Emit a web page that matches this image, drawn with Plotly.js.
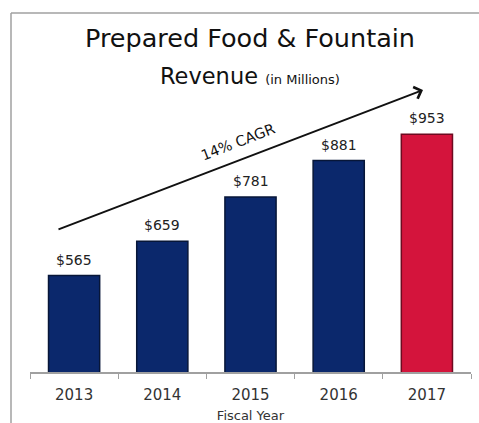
<!DOCTYPE html>
<html>
<head>
<meta charset="utf-8">
<script src="https://cdn.plot.ly/plotly-3.0.1.min.js"></script>
<style>html,body{margin:0;padding:0;background:#fff;}#chart{width:479px;height:423px;}</style>
</head>
<body>
<div id="chart"></div>
<script>
const years = ['2013', '2014', '2015', '2016', '2017'];
const revenue = [565, 659, 781, 881, 953];
const barColors = ['#0b286c', '#0b286c', '#0b286c', '#0b286c', '#d4143c'];
const barEdges = ['#071638', '#071638', '#071638', '#071638', '#6e0a20'];
const titleLine1 = 'Prepared Food &amp; Fountain';
const titleLine2 = 'Revenue <span style="font-size:13px">(in Millions)</span>';
const cagrLabel = '14% CAGR';
const xTitle = 'Fiscal Year';

const W = 479, H = 423;
const FONT = 'DejaVu Sans, sans-serif';

const valueLabels = years.map((y, i) => ({
  x: i, y: revenue[i], xref: 'x', yref: 'y',
  text: '$' + revenue[i], showarrow: false,
  yanchor: 'bottom', yshift: 6,
  font: {family: FONT, size: 14, color: '#222'}
}));

const trace = {
  type: 'bar', x: years, y: revenue,
  marker: {color: barColors, line: {color: barEdges, width: 1.5}},
  width: 0.58, hoverinfo: 'skip'
};

const layout = {
  width: W, height: H,
  margin: {l: 0, r: 0, t: 0, b: 0},
  paper_bgcolor: '#fff', plot_bgcolor: '#fff',
  showlegend: false,
  title: {text: titleLine1, x: 250 / W, xanchor: 'center', y: 1 - 38 / H, yanchor: 'middle',
          font: {family: FONT, size: 25.5, color: '#111'}},
  xaxis: {
    domain: [30 / W, 471 / W], type: 'category', range: [-0.5, years.length - 0.5],
    showline: true, linecolor: '#a0a0a0', linewidth: 1.5,
    ticks: 'outside', tickson: 'boundaries', ticklen: 5, tickcolor: '#a0a0a0',
    tickfont: {family: FONT, size: 15, color: '#333'}, tickangle: 0, ticklabelstandoff: 8,
    title: {text: xTitle, font: {family: FONT, size: 13, color: '#333'}, standoff: 9},
    showgrid: false, zeroline: false, fixedrange: true
  },
  yaxis: {
    domain: [51 / H, (H - 20) / H], range: [300, 1267],
    visible: false, showgrid: false, zeroline: false, fixedrange: true
  },
  shapes: [
    {type: 'line', xref: 'paper', yref: 'paper', x0: 11 / W, x1: 11 / W, y0: 0, y1: 1 - 13 / H,
     line: {color: '#a0a0a0', width: 1.5}},
    {type: 'line', xref: 'paper', yref: 'paper', x0: 11 / W, x1: 1, y0: 1 - 13 / H, y1: 1 - 13 / H,
     line: {color: '#a0a0a0', width: 1.5}}
  ],
  annotations: valueLabels.concat([
    {xref: 'paper', yref: 'paper', x: 250 / W, y: 1 - 76 / H, xanchor: 'center', yanchor: 'middle',
     text: titleLine2, showarrow: false, font: {family: FONT, size: 22.5, color: '#111'}},
    {xref: 'paper', yref: 'paper', x: 423 / W, y: 1 - 90 / H, text: '', showarrow: true,
     ax: -366, ay: 140, axref: 'pixel', ayref: 'pixel',
     arrowhead: 4, arrowsize: 1.2, arrowwidth: 2, arrowcolor: '#111', standoff: 0},
    {xref: 'paper', yref: 'paper', x: 238 / W, y: 1 - 142 / H, xanchor: 'center', yanchor: 'middle',
     text: cagrLabel, textangle: -21, showarrow: false,
     font: {family: FONT, size: 14.5, color: '#111'}}
  ])
};

Plotly.newPlot('chart', [trace], layout, {displayModeBar: false, staticPlot: true});
</script>
</body>
</html>
